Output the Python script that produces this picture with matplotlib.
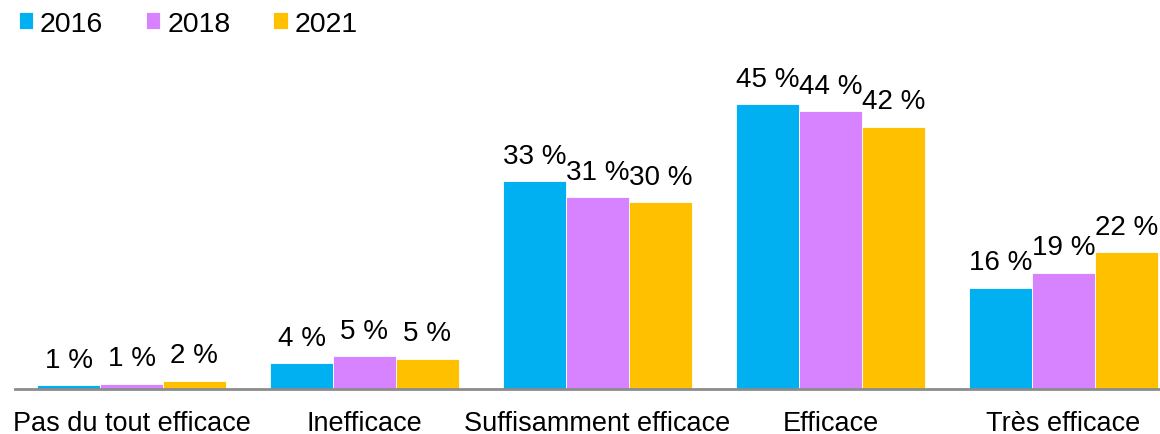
import matplotlib
matplotlib.use("Agg")
import matplotlib.pyplot as plt
import numpy as np

plt.rcParams["font.family"] = ["Liberation Sans", "DejaVu Sans"]

categories = ["Pas du tout efficace", "Inefficace", "Suffisamment efficace", "Efficace", "Très efficace"]
years = ["2016", "2018", "2021"]
# bar heights (percent)
v2016 = [0.6, 4.1, 32.8, 45.0, 16.0]
v2018 = [0.8, 5.2, 30.3, 43.9, 18.4]
v2021 = [1.3, 4.8, 29.5, 41.4, 21.6]
# printed labels
l2016 = ["1 %", "4 %", "33 %", "45 %", "16 %"]
l2018 = ["1 %", "5 %", "31 %", "44 %", "19 %"]
l2021 = ["2 %", "5 %", "30 %", "42 %", "22 %"]
colors = ["#00B0F0", "#D783FF", "#FFC000"]

fig = plt.figure(figsize=(11.6, 4.35), dpi=100)
ax = fig.add_axes([15 / 1160, 45 / 435, 1145 / 1160, 330 / 435])

x = np.arange(len(categories))
w = 0.27
series = [(v2016, l2016), (v2018, l2018), (v2021, l2021)]
for j, (vals, labs) in enumerate(series):
    bars = ax.bar(x + (j - 1) * w, vals, w, color=colors[j], edgecolor="white",
                  linewidth=0.6, label=years[j])
    ax.bar_label(bars, labels=labs, padding=9, fontsize=20)

ax.set_xlim(-0.5, -0.5 + 1145 / 233)
ax.set_ylim(0, 330 / 6.33)
ax.set_xticks(x)
ax.set_xticklabels(categories, fontsize=19.5)
ax.tick_params(axis="x", length=0, pad=15)
ax.set_yticks([])
for s in ["top", "right", "left"]:
    ax.spines[s].set_visible(False)
ax.spines["bottom"].set_color("#8c8c8c")
ax.spines["bottom"].set_linewidth(2)

fig.legend(loc="upper left", bbox_to_anchor=(-0.006, 1.032), ncol=3, frameon=False,
           fontsize=20.5, handlelength=0.5, handleheight=0.5, handletextpad=0.25,
           columnspacing=1.5)

fig.savefig("out.png", dpi=100)
